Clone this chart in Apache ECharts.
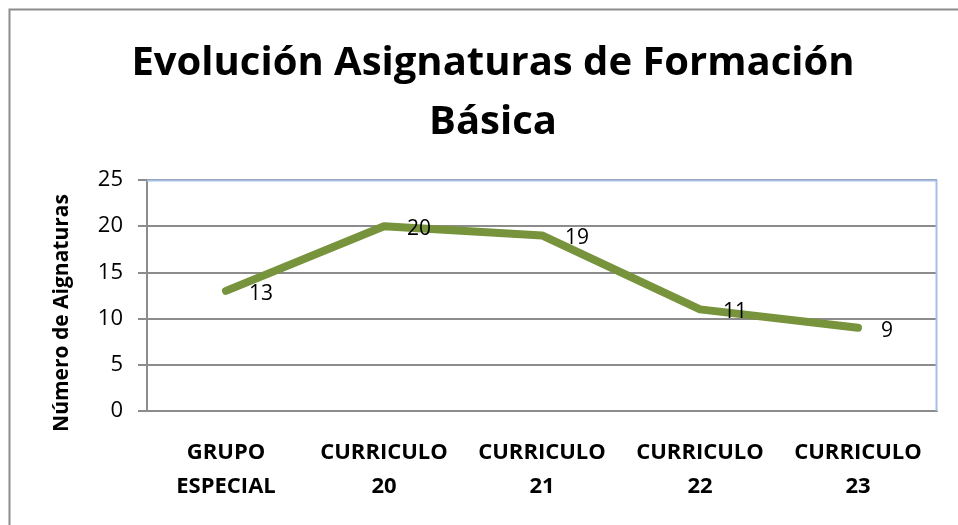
<!DOCTYPE html>
<html>
<head>
<meta charset="utf-8">
<script src="https://cdn.jsdelivr.net/npm/echarts@6/dist/echarts.min.js"></script>
<style>
  html, body { margin: 0; padding: 0; background: #fff; }
  #chart { width: 958px; height: 525px; }
</style>
</head>
<body>
<div id="chart"></div>
<script>
const categories = ['GRUPO\nESPECIAL', 'CURRICULO\n20', 'CURRICULO\n21', 'CURRICULO\n22', 'CURRICULO\n23']
const asignaturas = [13, 20, 19, 11, 9]
const yTicks = { min: 0, max: 25, interval: 5 }
const yName = 'Número de Aignaturas'

const font = '"Open Sans", "Noto Sans", sans-serif'
const chart = echarts.init(document.getElementById('chart'))

chart.setOption({
    animation: false,
    textStyle: { fontFamily: font },
    title: {
        text: 'Evolución Asignaturas de Formación\nBásica',
        left: 488,
        textAlign: 'center',
        top: 29,
        textStyle: { fontSize: 40, fontWeight: 'bold', color: '#000', lineHeight: 59, fontFamily: font }
    },
    graphic: [
        {
            type: 'rect',
            shape: { x: 9.5, y: 9.5, width: 1000, height: 600 },
            style: { fill: 'none', stroke: '#8c8c8c', lineWidth: 2 },
            silent: true
        },
        {
            // blue top and right frame of the plot area
            type: 'polyline',
            shape: { points: [[147, 180.5], [936.5, 180.5], [936.5, 411]] },
            style: { stroke: '#a6bde8', lineWidth: 2, fill: 'none' },
            z: 1
        },
        {
            // y axis title, sits a bit below the middle like in the original
            type: 'text',
            x: 62, y: 313,
            rotation: Math.PI / 2,
            style: {
                text: yName, fontSize: 21, fontWeight: 'bold', fill: '#000',
                fontFamily: font, align: 'center', verticalAlign: 'middle'
            }
        }
    ],
    grid: { left: 147, right: 21, top: 180, bottom: 114 },
    xAxis: {
        type: 'category',
        data: categories,
        boundaryGap: true,
        axisLine: { lineStyle: { color: '#8c8c8c', width: 2 } },
        axisTick: { show: false },
        axisLabel: {
            color: '#000', fontSize: 22, fontWeight: 'bold', lineHeight: 34,
            margin: 25, interval: 0, fontFamily: font
        }
    },
    yAxis: {
        type: 'value',
        min: yTicks.min, max: yTicks.max, interval: yTicks.interval,
        axisLine: { show: true, lineStyle: { color: '#8c8c8c', width: 2 } },
        axisTick: { show: true, length: 9, lineStyle: { color: '#8c8c8c', width: 2 } },
        axisLabel: { color: '#000', fontSize: 22, margin: 24, fontFamily: font },
        splitLine: { lineStyle: { color: '#8c8c8c', width: 2 } }
    },
    series: [
        {
            type: 'line',
            data: asignaturas,
            symbol: 'circle',
            symbolSize: 2,
            itemStyle: { color: '#77933c' },
            lineStyle: { color: '#77933c', width: 8, cap: 'round', join: 'round' },
            label: {
                show: true, position: 'right', distance: 22, offset: [0, 3],
                color: '#000', fontSize: 21, fontFamily: font
            },
            z: 3
        }
    ]
})
</script>
</body>
</html>
